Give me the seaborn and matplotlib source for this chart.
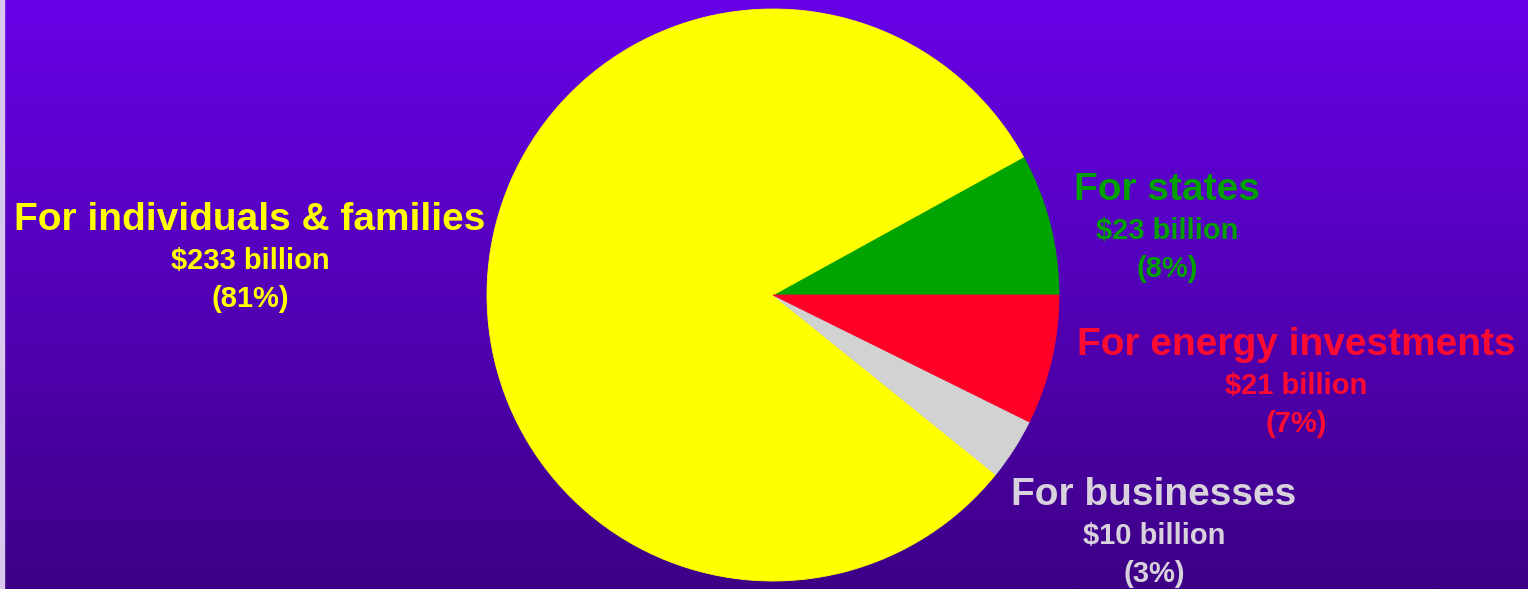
import numpy as np
import matplotlib
matplotlib.use("Agg")
import matplotlib.pyplot as plt
import seaborn as sns
from matplotlib.colors import LinearSegmentedColormap

sns.set_style("white")
plt.rcParams['font.family'] = ['Liberation Sans', 'DejaVu Sans']

# Spending categories (billions of dollars)
categories = ["For states", "For individuals & families", "For businesses", "For energy investments"]
values = [23, 233, 10, 21]
slice_colors = ["#00A400", "#FFFF00", "#D2D2D2", "#FF0026"]
text_colors = ["#00A000", "#FFFF00", "#D8D2DC", "#FF0A30"]

W, H = 1528, 589
fig = plt.figure(figsize=(W / 100, H / 100), dpi=100)

# Vertical purple gradient backdrop
bg = fig.add_axes([0, 0, 1, 1])
grad = np.linspace(0, 1, 256).reshape(-1, 1)
cmap = LinearSegmentedColormap.from_list("bgpurple", ["#6800E8", "#3E0086"])
bg.imshow(grad, aspect="auto", cmap=cmap, extent=[0, 1, 0, 1], origin="upper")
bg.axvspan(0, 4 / W, color="#D8C8EE")
bg.set_xlim(0, 1)
bg.set_ylim(0, 1)
bg.axis("off")

# Pie axes
cx, cy, r = 773, 295, 286
ax = fig.add_axes([(cx - r) / W, (H - cy - r) / H, 2 * r / W, 2 * r / H])
wedges, _ = ax.pie(values, colors=slice_colors, startangle=0, counterclock=True,
                   radius=1, wedgeprops=dict(linewidth=0.6))
for w in wedges:
    w.set_edgecolor(w.get_facecolor())
ax.set_xlim(-1, 1)
ax.set_ylim(-1, 1)
ax.set_aspect("equal")
ax.axis("off")

total = sum(values)
# label anchor positions (pixel centers of the first line)
label_pos = [(1167, 190), (250, 220), (1154, 495), (1296, 345)]
gaps = [41, 38]

for name, val, col, (x, y) in zip(categories, values, text_colors, label_pos):
    pct = round(100 * val / total)
    fig.text(x / W, 1 - y / H, name, ha="center", va="center",
             fontsize=28, fontweight="bold", color=col)
    fig.text(x / W, 1 - (y + gaps[0]) / H, f"${val} billion", ha="center", va="center",
             fontsize=21, fontweight="bold", color=col)
    fig.text(x / W, 1 - (y + gaps[0] + gaps[1]) / H, f"({pct}%)", ha="center", va="center",
             fontsize=21, fontweight="bold", color=col)

fig.savefig("out.png", dpi=100)
